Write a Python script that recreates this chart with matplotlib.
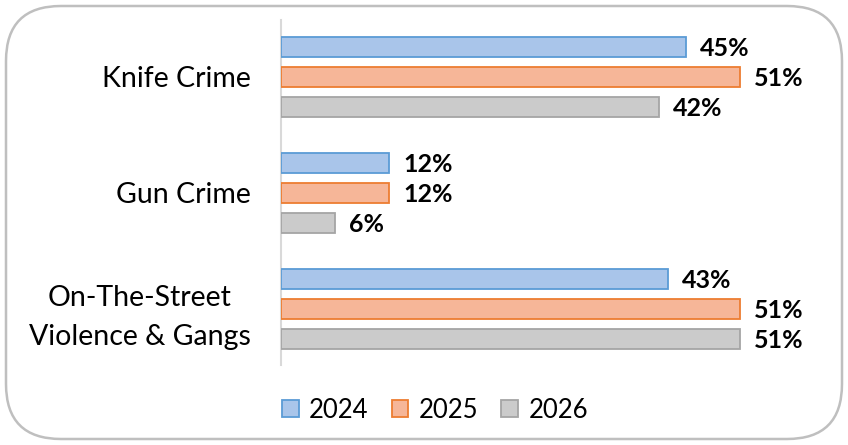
import matplotlib
matplotlib.use("Agg")
import matplotlib.pyplot as plt
from matplotlib.patches import FancyBboxPatch, Patch

plt.rcParams["font.family"] = ["Lato", "DejaVu Sans"]

categories = ["Knife Crime", "Gun Crime", "On-The-Street\nViolence & Gangs"]
years = ["2024", "2025", "2026"]
v2024 = [45, 12, 43]
v2025 = [51, 12, 51]
v2026 = [42, 6, 51]

FILLS = ["#a9c5ea", "#f6b698", "#cbcbcb"]
EDGES = ["#5b9bd5", "#ed7d31", "#a5a5a5"]

W, H = 848, 445
fig = plt.figure(figsize=(W / 100, H / 100), dpi=100)

# rounded outer frame on a background axes
bg = fig.add_axes([0, 0, 1, 1], zorder=0)
bg.set_xlim(0, W); bg.set_ylim(H, 0); bg.axis("off")
bg.add_patch(FancyBboxPatch((6, 6), W - 12, H - 12,
             boxstyle="round,pad=0,rounding_size=55",
             fc="white", ec="#bfbfbf", lw=1.8))

ax = fig.add_axes([281 / W, (H - 365) / H, 519 / W, 345 / H], zorder=1)
ax.set_facecolor("none")
ax.set_xlim(0, 519 / 9)
ax.set_ylim(2.483, -0.491)

off = 30 / 116
bh = 20 / 116
for i, vals in enumerate([v2024, v2025, v2026]):
    ys = [k + (i - 1) * off for k in range(len(categories))]
    ax.barh(ys, vals, height=bh, color=FILLS[i], edgecolor=EDGES[i], lw=1.3,
            label=years[i], zorder=3)
    for y, v in zip(ys, vals):
        ax.text(v + 1.55, y + 0.01, f"{v}%", ha="left", va="center",
                fontsize=18, fontweight="bold", color="black")

ax.set_yticks(range(len(categories)))
ax.set_yticklabels(categories, fontsize=20.5, linespacing=1.6,
                   multialignment="center")
ax.tick_params(axis="y", length=0, pad=22)
ax.set_xticks([])
for s in ["top", "right", "bottom"]:
    ax.spines[s].set_visible(False)
ax.spines["left"].set_color("#d9d9d9")
ax.spines["left"].set_linewidth(1.5)

handles = [Patch(fc=FILLS[i], ec=EDGES[i], lw=1.3, label=years[i]) for i in range(3)]
fig.legend(handles=handles, loc="center", bbox_to_anchor=(435 / W, 1 - 410 / H),
           ncol=3, frameon=False, fontsize=18.5, handlelength=0.66, handleheight=0.66,
           handletextpad=0.4, columnspacing=0.9)

fig.savefig("out.png", dpi=100)
